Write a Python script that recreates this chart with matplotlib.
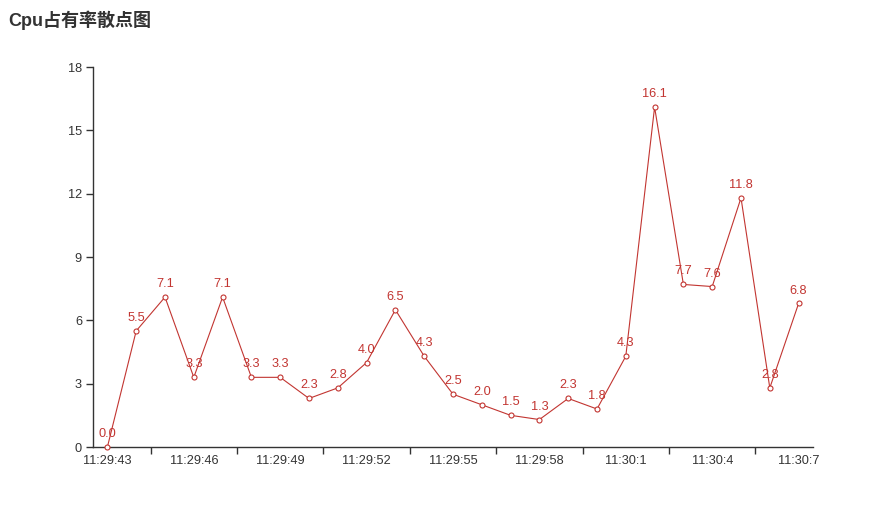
import matplotlib
matplotlib.use("Agg")
import matplotlib.pyplot as plt
import numpy as np

plt.rcParams['font.family'] = ['Liberation Sans', 'Noto Sans CJK SC', 'DejaVu Sans']

times = ["11:29:43", "11:29:44", "11:29:45", "11:29:46", "11:29:47", "11:29:48",
         "11:29:49", "11:29:50", "11:29:51", "11:29:52", "11:29:53", "11:29:54",
         "11:29:55", "11:29:56", "11:29:57", "11:29:58", "11:29:59", "11:30:0",
         "11:30:1", "11:30:2", "11:30:3", "11:30:4", "11:30:5", "11:30:6", "11:30:7"]
cpu = [0.0, 5.5, 7.1, 3.3, 7.1, 3.3, 3.3, 2.3, 2.8, 4.0, 6.5, 4.3, 2.5, 2.0,
       1.5, 1.3, 2.3, 1.8, 4.3, 16.1, 7.7, 7.6, 11.8, 2.8, 6.8]
y_ticks = [0, 3, 6, 9, 12, 15, 18]

red = "#c23531"
dark = "#333333"

fig = plt.figure(figsize=(8.94, 5.29), dpi=100)
ax = fig.add_axes([93 / 894, 1 - 447 / 529, 720 / 894, 380 / 529])

x = np.arange(len(cpu))
ax.plot(x, cpu, color=red, lw=0.8, marker="o", ms=3.6, mfc="white",
        mec=red, mew=0.8, zorder=3, clip_on=False)
for xi, v in zip(x, cpu):
    ax.annotate(f"{v:.1f}", (xi, v), xytext=(0, 5), textcoords="offset points",
                ha="center", va="bottom", color=red, fontsize=9.2)

ax.set_xlim(-0.5, len(cpu) - 0.5)
ax.set_ylim(0, 18)
ax.set_yticks(y_ticks)
ax.set_yticklabels([str(t) for t in y_ticks])

# labels at every 3rd category, tick marks on category boundaries
ax.set_xticks(x[::3])
ax.set_xticklabels(times[::3])
ax.set_xticks(np.arange(1.5, len(cpu) - 1, 3), minor=True)
ax.tick_params(axis="x", which="major", length=0, pad=6, labelsize=9.2, colors=dark)
ax.tick_params(axis="x", which="minor", length=5, width=1, color=dark)
ax.tick_params(axis="y", length=5, width=1, pad=3, labelsize=9.2, colors=dark)

for s in ["top", "right"]:
    ax.spines[s].set_visible(False)
for s in ["left", "bottom"]:
    ax.spines[s].set_color(dark)
    ax.spines[s].set_linewidth(1)

fig.text(8 / 894, 1 - 20 / 529, "Cpu占有率散点图", fontsize=13, fontweight="bold",
         color=dark, va="center", ha="left")

fig.savefig("out.png", dpi=100)
